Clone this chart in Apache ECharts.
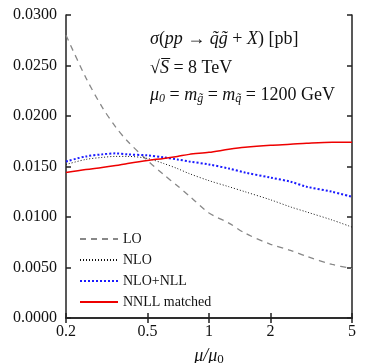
<!DOCTYPE html>
<html>
<head>
<meta charset="utf-8">
<script src="https://cdn.jsdelivr.net/npm/echarts@6/dist/echarts.min.js"></script>
<style>
  html, body { margin: 0; padding: 0; background: #fff; }
  #chart { width: 374px; height: 363px; }
</style>
</head>
<body>
<div id="chart"></div>
<script>
// scale ratio mu/mu0
var muValues = [0.2, 0.25, 0.3, 0.35, 0.4, 0.5, 0.6, 0.7, 0.8, 1, 1.25, 1.5, 2, 2.5, 3, 4, 5];
var loValues = [0.0280, 0.0238, 0.0209, 0.0189, 0.0175, 0.0156, 0.0142, 0.0131, 0.0121, 0.0104, 0.0094, 0.0084, 0.0073, 0.0067, 0.0061, 0.0053, 0.0049];
var nloValues = [0.0152, 0.0157, 0.0159, 0.0160, 0.0160, 0.0158, 0.0153, 0.0148, 0.0143, 0.0136, 0.0130, 0.0125, 0.0117, 0.0110, 0.0105, 0.0097, 0.0090];
var nllValues = [0.0155, 0.0160, 0.0162, 0.0163, 0.0162, 0.0161, 0.0159, 0.0157, 0.0155, 0.0152, 0.0148, 0.0144, 0.0139, 0.0135, 0.0130, 0.0125, 0.0120];
var nnllValues = [0.0144, 0.0147, 0.0149, 0.0151, 0.0153, 0.0156, 0.0158, 0.0160, 0.0162, 0.0164, 0.0167, 0.0169, 0.0171, 0.0172, 0.0173, 0.0174, 0.0174];
var seriesNames = ['LO', 'NLO', 'NLO+NLL', 'NNLL matched'];
var xTicks = [0.2, 0.5, 1, 2, 5];

function pairs(ys) {
  return muValues.map(function(m, i) { return [m, ys[i]]; });
}

var font = 'Liberation Serif';
var axisCol = '#222';
var txt = '#111';

var chart = echarts.init(document.getElementById('chart'));
var option = {
  animation: false,
  textStyle: { fontFamily: font },
  grid: { left: 66, right: 22, top: 15, bottom: 45, outerBoundsMode: 'none', containLabel: false },
  legend: {
    orient: 'vertical',
    left: 74,
    top: 227,
    itemWidth: 38,
    itemHeight: 12,
    itemGap: 7,
    data: seriesNames,
    itemStyle: { opacity: 0 },
    textStyle: { fontFamily: font, fontSize: 14, color: txt }
  },
  xAxis: [
    {
      type: 'log',
      min: 0.2,
      max: 5,
      name: '{i|μ/μ}{s|0}',
      nameLocation: 'middle',
      nameGap: 28,
      nameTextStyle: {
        rich: {
          i: { fontFamily: font, fontStyle: 'italic', fontSize: 18, color: txt },
          s: { fontFamily: font, fontSize: 13, color: txt, padding: [7, 0, 0, 0] }
        }
      },
      axisLine: { lineStyle: { color: axisCol, width: 1.5 } },
      axisTick: { inside: true, length: 5, customValues: xTicks, lineStyle: { color: axisCol, width: 1.5 } },
      minorTick: { show: false },
      axisLabel: { customValues: xTicks, fontFamily: font, fontSize: 16, color: txt, margin: 6,
        formatter: function(v) { return String(Math.round(v * 10) / 10); } },
      splitLine: { show: false }
    },
    {
      type: 'log',
      position: 'top',
      min: 0.2,
      max: 5,
      axisLine: { lineStyle: { color: axisCol, width: 1.5 } },
      axisTick: { inside: true, length: 5, customValues: xTicks, lineStyle: { color: axisCol, width: 1.5 } },
      axisLabel: { show: false },
      splitLine: { show: false }
    }
  ],
  yAxis: [
    {
      type: 'value',
      min: 0,
      max: 0.03,
      interval: 0.005,
      axisLine: { show: true, lineStyle: { color: axisCol, width: 1.5 } },
      axisTick: { show: true, inside: true, length: 5, lineStyle: { color: axisCol, width: 1.5 } },
      axisLabel: { fontFamily: font, fontSize: 16, color: txt, margin: 9,
        formatter: function(v) { return v.toFixed(4); } },
      splitLine: { show: false }
    },
    {
      type: 'value',
      position: 'right',
      min: 0,
      max: 0.03,
      interval: 0.005,
      axisLine: { show: true, lineStyle: { color: axisCol, width: 1.5 } },
      axisTick: { show: true, inside: true, length: 5, lineStyle: { color: axisCol, width: 1.5 } },
      axisLabel: { show: false },
      splitLine: { show: false }
    }
  ],
  graphic: [
    {
      type: 'text', left: 150, top: 30,
      style: {
        text: '{i|σ}{r|(}{i|pp}{r| → }{i|q̃g̃}{r| + }{i|X}{r|) [pb]}',
        rich: {
          i: { fontFamily: font, fontStyle: 'italic', fontSize: 18, fill: txt },
          r: { fontFamily: font, fontSize: 18, fill: txt }
        }
      }
    },
    {
      type: 'text', left: 150, top: 59,
      style: {
        text: '{r|√}{i|S̅}{r| = 8 TeV}',
        rich: {
          i: { fontFamily: font, fontStyle: 'italic', fontSize: 18, fill: txt },
          r: { fontFamily: font, fontSize: 18, fill: txt }
        }
      }
    },
    {
      type: 'text', left: 150, top: 86,
      style: {
        text: '{i|μ}{s|0}{r| = }{i|m}{s|g̃}{r| = }{i|m}{s|q̃}{r| = 1200 GeV}',
        rich: {
          i: { fontFamily: font, fontStyle: 'italic', fontSize: 18, fill: txt },
          r: { fontFamily: font, fontSize: 18, fill: txt },
          s: { fontFamily: font, fontStyle: 'italic', fontSize: 12, fill: txt, padding: [8, 0, 0, 0] }
        }
      }
    }
  ],
  series: [
    {
      name: seriesNames[0], type: 'line', data: pairs(loValues), smooth: 0.3,
      symbol: 'none', color: '#888',
      lineStyle: { color: '#888', width: 1.3, type: [6, 5] }
    },
    {
      name: seriesNames[1], type: 'line', data: pairs(nloValues), smooth: 0.3,
      symbol: 'none', color: '#111',
      lineStyle: { color: '#111', width: 1, type: [1, 2] }
    },
    {
      name: seriesNames[2], type: 'line', data: pairs(nllValues), smooth: 0.3,
      symbol: 'none', color: '#1a1aff',
      lineStyle: { color: '#1a1aff', width: 2, type: [2, 2] }
    },
    {
      name: seriesNames[3], type: 'line', data: pairs(nnllValues), smooth: 0.3,
      symbol: 'none', color: '#ee0000',
      lineStyle: { color: '#ee0000', width: 1.5 }
    }
  ]
};
chart.setOption(option);
</script>
</body>
</html>
